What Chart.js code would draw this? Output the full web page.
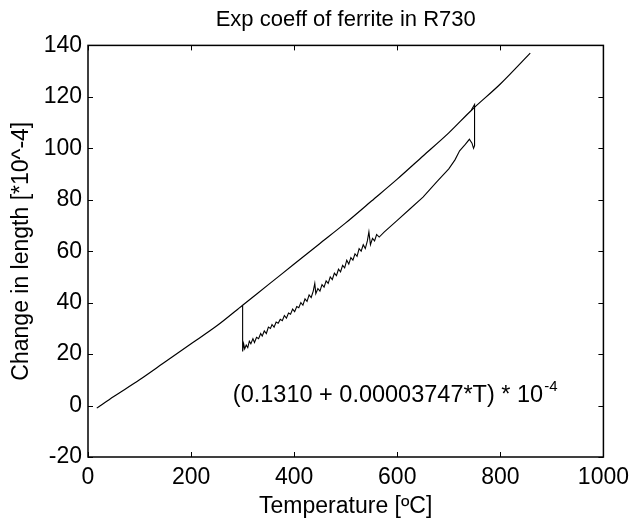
<!DOCTYPE html>
<html>
<head>
<meta charset="utf-8">
<script src="https://cdn.jsdelivr.net/npm/chart.js@4.4.1/dist/chart.umd.min.js"></script>
<style>
  html, body { margin: 0; padding: 0; background: #fff; }
  #wrap { width: 636px; height: 520px; }
</style>
</head>
<body>
<div id="wrap"><canvas id="expCoeff" width="636" height="520"></canvas></div>
<script>
// heating curve (change in length, *10^-4)
const upperTemp = [17, 50, 100, 150, 200, 250, 300, 350, 400, 450, 500, 550, 600, 650, 700, 745, 800, 858];
const upperLen  = [-1, 3.5, 10, 17, 24, 31, 39, 47, 55, 63, 71, 79.5, 88, 97, 106, 115, 125, 137];

// second run: drop at 300, noisy rise, jump back at 750
const lowerTemp = [300, 300, 302, 304, 307, 310, 313, 316, 320, 323, 327, 331, 335, 338, 342, 346,
  350, 354, 357, 361, 365, 369, 373, 377, 381, 385, 389, 393, 397, 401, 405, 409, 413, 417, 421,
  425, 429, 433, 437, 440, 442, 446, 450, 454, 458, 462, 466, 470, 474, 478, 482, 486, 490, 494,
  498, 502, 506, 510, 514, 518, 522, 526, 530, 534, 538, 542, 545, 548, 552, 556, 560, 565,
  575, 600, 625, 650, 677, 700, 712, 721, 732, 740, 745, 748, 750, 750, 744];
const lowerLen = [39, 21, 24, 22, 23.5, 22.5, 25, 24, 26, 24.5, 26.5, 26, 28, 27, 29, 28,
  30.5, 30, 31.5, 30.5, 32.5, 32, 33.5, 33, 35, 34, 36, 35.5, 37.5, 36.5, 38.5, 38, 40, 39, 41.5,
  40.5, 43, 42, 44.5, 47.5, 43.5, 45.5, 44.5, 47, 46, 48.5, 47.5, 50, 49, 51.5, 50.5, 53, 52, 54.5,
  53.5, 56.5, 55, 57.5, 56.5, 59, 58, 61, 60, 62.5, 61, 64, 67.5, 62.5, 65, 64, 66.5, 65.5,
  67.5, 72, 76.5, 81, 87, 92, 95.5, 99, 101.5, 103.5, 102, 100, 101, 117, 115];

const xTicks = [0, 200, 400, 600, 800, 1000];
const yTicks = [-20, 0, 20, 40, 60, 80, 100, 120, 140];

const fitText = "(0.1310 + 0.00003747*T) * 10";
const fitExp = "-4";
const fitPos = { x: 281, y: 3.8 };

const FONT = '"Liberation Sans", Arial, Helvetica, sans-serif';

function pairs(xs, ys) {
  return xs.map((x, i) => ({ x: x, y: ys[i] }));
}

// box round the plot with inward ticks on all four sides, plus the fit label
const matlabFrame = {
  id: "matlabFrame",
  afterDraw(chart) {
    const ctx = chart.ctx;
    const a = chart.chartArea;
    const xs = chart.scales.x;
    const ys = chart.scales.y;
    const tl = 5;
    ctx.save();
    ctx.strokeStyle = "#000";
    ctx.lineWidth = 1.5;
    ctx.strokeRect(a.left, a.top, a.right - a.left, a.bottom - a.top);
    ctx.lineWidth = 1;
    ctx.beginPath();
    xTicks.forEach((v) => {
      const px = Math.round(xs.getPixelForValue(v)) + 0.5;
      ctx.moveTo(px, a.bottom); ctx.lineTo(px, a.bottom - tl);
      ctx.moveTo(px, a.top); ctx.lineTo(px, a.top + tl);
    });
    yTicks.forEach((v) => {
      const py = Math.round(ys.getPixelForValue(v)) + 0.5;
      ctx.moveTo(a.left, py); ctx.lineTo(a.left + tl, py);
      ctx.moveTo(a.right, py); ctx.lineTo(a.right - tl, py);
    });
    ctx.stroke();

    const tx = xs.getPixelForValue(fitPos.x);
    const ty = ys.getPixelForValue(fitPos.y);
    ctx.fillStyle = "#000";
    ctx.textBaseline = "middle";
    ctx.textAlign = "left";
    ctx.font = "23.5px " + FONT;
    ctx.fillText(fitText, tx, ty);
    const w = ctx.measureText(fitText).width;
    ctx.font = "15px " + FONT;
    ctx.fillText(fitExp, tx + w + 1, ty - 9);
    ctx.restore();
  }
};

new Chart(document.getElementById("expCoeff"), {
  type: "scatter",
  data: {
    datasets: [
      {
        data: pairs(upperTemp, upperLen),
        showLine: true,
        borderColor: "#000",
        borderWidth: 1.2,
        pointRadius: 0,
        tension: 0.3,
      },
      {
        data: pairs(lowerTemp, lowerLen),
        showLine: true,
        borderColor: "#000",
        borderWidth: 1.1,
        pointRadius: 0,
        tension: 0,
      },
    ],
  },
  options: {
    responsive: false,
    animation: false,
    layout: { padding: { left: 0, right: 28, top: 0, bottom: 0 } },
    plugins: {
      legend: { display: false },
      tooltip: { enabled: false },
      title: {
        display: true,
        text: "Exp coeff of ferrite in R730",
        color: "#000",
        fullSize: false,
        font: { family: FONT, size: 22, weight: "normal" },
        padding: { top: 7, bottom: 12 },
      },
    },
    scales: {
      x: {
        type: "linear",
        min: 0,
        max: 1000,
        border: { display: false },
        grid: { display: false, drawTicks: false },
        ticks: {
          stepSize: 200,
          color: "#000",
          padding: 7,
          maxRotation: 0,
          font: { family: FONT, size: 23 },
          callback: (v) => String(v),
        },
        title: {
          display: true,
          text: "Temperature [ºC]",
          color: "#000",
          padding: { top: 0, bottom: 0 },
          font: { family: FONT, size: 23 },
        },
        afterFit: (s) => { s.height = 63; },
      },
      y: {
        type: "linear",
        min: -20,
        max: 140,
        border: { display: false },
        grid: { display: false, drawTicks: false },
        ticks: {
          stepSize: 20,
          color: "#000",
          padding: 6,
          font: { family: FONT, size: 23 },
          callback: (v) => String(v),
        },
        title: {
          display: true,
          text: "Change in length [*10^-4]",
          color: "#000",
          padding: { top: 8, bottom: 0 },
          font: { family: FONT, size: 23 },
        },
        afterFit: (s) => { s.width = 88; },
      },
    },
  },
  plugins: [matlabFrame],
});
</script>
</body>
</html>
